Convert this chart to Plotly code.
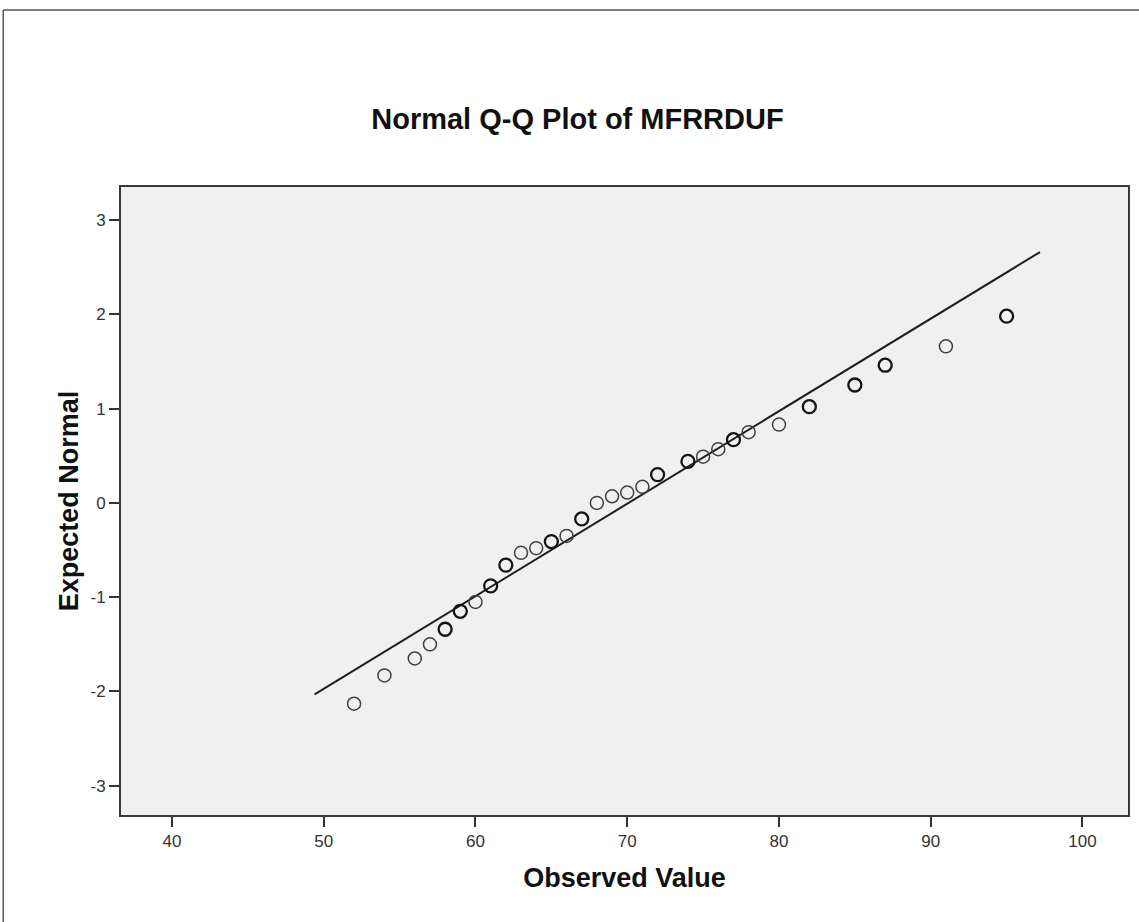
import plotly.graph_objects as go

obs_single = [52, 54, 56, 57, 60, 63, 64, 66, 68, 69, 70, 71, 75, 76, 78, 80, 91]
exp_single = [-2.13, -1.83, -1.65, -1.50, -1.05, -0.53, -0.48, -0.35, 0.00, 0.07, 0.11, 0.17, 0.49, 0.57, 0.75, 0.83, 1.66]

obs_repeat = [58, 59, 61, 62, 65, 67, 72, 74, 77, 82, 85, 87, 95]
exp_repeat = [-1.34, -1.15, -0.88, -0.66, -0.41, -0.17, 0.30, 0.44, 0.67, 1.02, 1.25, 1.46, 1.98]

# Reference (normal) line end points
line_x = [49.4, 97.2]
line_y = [-2.03, 2.66]

x_ticks = [40, 50, 60, 70, 80, 90, 100]
x_ticktext = ["40", "50", "60", "70", "80", "90", "100"]
y_ticks = [3, 2, 1, 0, -1, -2, -3]
y_ticktext = ["3", "2", "1", "0", "-1", "-2", "-3"]

FONT = "Liberation Sans, Arial, sans-serif"

fig = go.Figure()
fig.add_trace(go.Scatter(x=line_x, y=line_y, mode="lines",
                         line=dict(color="#1e1e1e", width=2), hoverinfo="skip"))
fig.add_trace(go.Scatter(x=obs_single, y=exp_single, mode="markers",
                         marker=dict(symbol="circle-open", size=13, color="#404040",
                                     line=dict(color="#404040", width=1.5))))
fig.add_trace(go.Scatter(x=obs_repeat, y=exp_repeat, mode="markers",
                         marker=dict(symbol="circle-open", size=13, color="#141414",
                                     line=dict(color="#141414", width=2.3))))

W, H = 1139, 922
L, R, T, B = 121, 9, 187, 107
pw, ph = W - L - R, H - T - B


def px_x(px):
    return (px - L) / pw


def px_y(py):
    return (H - B - py) / ph


fig.update_layout(
    width=W, height=H,
    margin=dict(l=L, r=R, t=T, b=B),
    paper_bgcolor="white",
    plot_bgcolor="#f0f0f0",
    showlegend=False,
    font=dict(family=FONT, color="#222"),
    title=dict(text="<b>Normal Q-Q Plot of MFRRDUF</b>", x=0.507, xref="container",
               xanchor="center", y=1 - 119 / H, yref="container", yanchor="middle",
               font=dict(size=29, color="#111", family=FONT)),
    xaxis=dict(range=[36.64, 103.0], tickvals=x_ticks, ticktext=x_ticktext,
               showgrid=False, zeroline=False, ticks="outside", ticklen=10,
               tickwidth=2, tickcolor="#333", showline=True, mirror=True,
               linewidth=2, linecolor="#3a3a3a",
               tickfont=dict(size=17, color="#333"),
               title=dict(text="<b>Observed Value</b>", standoff=18,
                          font=dict(size=27, color="#111"))),
    yaxis=dict(range=[-3.31, 3.35], tickvals=y_ticks, ticktext=y_ticktext,
               showgrid=False, zeroline=False, ticks="outside", ticklen=10,
               tickwidth=2, tickcolor="#333", showline=True, mirror=True,
               linewidth=2, linecolor="#3a3a3a",
               tickfont=dict(size=17, color="#333"),
               title=dict(text="<b>Expected Normal</b>", standoff=4,
                          font=dict(size=27, color="#111"))),
    shapes=[
        dict(type="line", xref="paper", yref="paper",
             x0=px_x(3), x1=px_x(1145), y0=px_y(10), y1=px_y(10),
             line=dict(color="#555", width=1.5)),
        dict(type="line", xref="paper", yref="paper",
             x0=px_x(3), x1=px_x(3), y0=px_y(10), y1=px_y(930),
             line=dict(color="#555", width=1.5)),
    ],
)

fig.write_html("out.html", config={"displayModeBar": False},
               post_script="document.body.style.margin='0';document.body.style.overflow='hidden';")
